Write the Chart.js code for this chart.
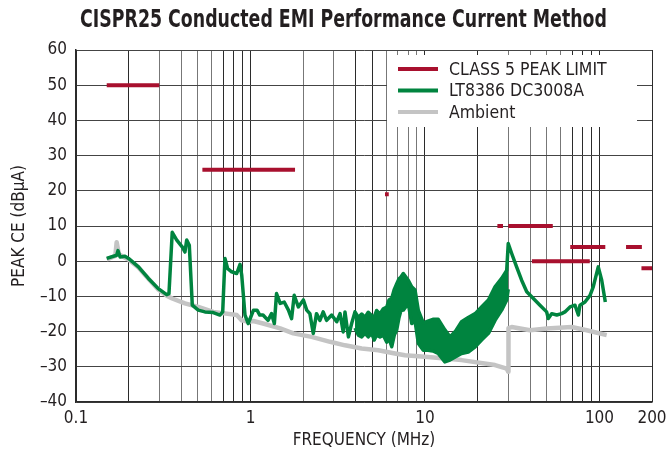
<!DOCTYPE html>
<html>
<head>
<meta charset="utf-8">
<script src="https://cdn.jsdelivr.net/npm/chart.js@4"></script>
<style>
  body { margin: 0; background: #fff; }
  canvas { display: block; }
</style>
</head>
<body>
<canvas id="emiChart" width="667" height="456"></canvas>
<script>
const FONT = "'Liberation Sans Narrow', 'DejaVu Sans Condensed', sans-serif";
const INK = '#231f20';

/* ---------- DATA ---------- */
// x axis grid positions and labelled ticks (MHz)
const xGrid = [0.1, 0.2, 0.3, 0.4, 0.5, 0.6, 0.7, 0.8, 0.9,
  1, 2, 3, 4, 5, 6, 7, 8, 9,
  10, 20, 30, 40, 50, 60, 70, 80, 90, 100, 200];
const xLabels = [0.1, 1, 10, 100, 200];

// CISPR25 class 5 peak limit segments
const limitStart = [0.15, 0.53, 5.9, 26, 30, 41, 68, 142, 174];
const limitStop = [0.3, 1.8, 6.2, 28, 54, 88, 108, 175, 230];
const limitLevel = [50, 26, 19, 10, 10, 0, 4, 4, -2];

// LT8386 DC3008A trace (upper edge where the trace is a dense band)
const greenFreq = [0.150, 0.171, 0.174, 0.179, 0.191, 0.200, 0.228, 0.260, 0.296, 0.331,
  0.341, 0.356, 0.378, 0.407, 0.421, 0.431, 0.446, 0.464, 0.502, 0.548,
  0.612, 0.668, 0.693, 0.714, 0.740, 0.780, 0.834, 0.871, 0.891, 0.930,
  0.971, 1.04, 1.09, 1.13, 1.18, 1.26, 1.32, 1.37, 1.41, 1.48,
  1.56, 1.65, 1.72, 1.78, 1.88, 2.01, 2.10, 2.19, 2.29, 2.39,
  2.50, 2.61, 2.73, 2.92, 3.12, 3.26, 3.40, 3.48, 3.64, 3.80,
  3.97, 4.15, 4.34, 4.53, 4.73, 4.95, 5.12, 5.28, 5.52, 5.77,
  6.04, 6.22, 6.45, 6.67, 6.88, 7.10, 7.28, 7.51, 8.02, 8.39,
  8.77, 9.16, 9.78, 10.4, 11.1, 11.9, 13.0, 13.9, 14.9, 16.2,
  17.7, 19.4, 21.1, 23.1, 25.2, 27.5, 29.4, 30.0, 31.4, 33.5,
  35.8, 38.3, 41.8, 45.6, 49.8, 50.9, 53.2, 56.9, 60.7, 63.4,
  67.8, 72.4, 75.7, 77.3, 82.6, 88.3, 92.1, 98.4, 103, 108];
const greenDb = [0.8, 1.7, 3.0, 1.2, 1.4, 0.8, -1.6, -4.9, -7.8, -9.5,
  -9.2, 8.2, 6.0, 4.0, 2.6, 6.0, 4.5, -12.5, -13.9, -14.4,
  -14.6, -15.3, -14.4, 0.8, -2.1, -3.0, -3.5, -0.9, -4.0, -15.3,
  -17.7, -13.9, -13.9, -15.3, -15.3, -16.8, -14.9, -17.7, -9.2, -12.0,
  -11.6, -13.9, -16.3, -9.7, -13.0, -11.0, -13.9, -14.9, -20.5, -14.9,
  -16.8, -14.4, -16.8, -15.3, -17.2, -14.9, -20.1, -14.4, -21.5, -17.7,
  -14.4, -16.0, -15.0, -16.0, -14.5, -15.5, -15.8, -14.0, -15.0, -13.5,
  -13.0, -11.0, -10.5, -8.0, -6.5, -5.0, -4.5, -3.5, -5.4, -7.3,
  -8.2, -14.0, -17.5, -17.0, -16.5, -16.5, -19.5, -21.5, -20.0, -17.2,
  -16.0, -14.9, -13.0, -11.0, -7.3, -4.9, -2.6, 5.0, 2.2, -1.6,
  -5.4, -8.7, -10.6, -12.5, -14.4, -16.3, -14.9, -15.3, -14.9, -14.4,
  -13.0, -12.5, -15.3, -12.5, -11.6, -9.7, -7.3, -1.6, -5.4, -11.6];

// lower edge of the dense band (3.97 - 30 MHz)
const bandFreq = [3.97, 4.15, 4.34, 4.53, 4.73, 4.95, 5.12, 5.28, 5.52, 5.77,
  6.04, 6.22, 6.45, 6.67, 6.88, 7.10, 7.28, 7.51, 8.02, 8.39,
  8.77, 9.16, 9.78, 10.4, 11.1, 11.9, 13.0, 13.9, 14.9, 16.2,
  17.7, 19.4, 21.1, 23.1, 25.2, 27.5, 29.4, 30.0];
const bandBottom = [-19.0, -21.0, -21.5, -20.5, -21.5, -20.5, -22.4, -21.0, -21.5, -21.0,
  -23.0, -22.0, -24.3, -21.0, -19.6, -16.0, -14.0, -13.9, -12.0, -17.7,
  -17.0, -23.4, -25.3, -25.3, -25.5, -26.2, -28.6, -28.1, -27.2, -26.2,
  -25.8, -24.3, -22.4, -20.5, -16.8, -13.9, -11.0, -8.0];

// Ambient
const ambientFreq = [0.150, 0.168, 0.171, 0.176, 0.191, 0.200, 0.228, 0.260, 0.296, 0.331,
  0.356, 0.421, 0.502, 0.612, 0.834, 0.891, 0.971, 1.04, 1.18, 1.48,
  1.76, 2.24, 2.86, 3.48, 4.34, 5.40, 6.73, 7.68, 10.4, 16.2,
  25.2, 29.4, 30.0, 30.1, 31.4, 40.0, 49.8, 69.3, 84.5, 110];
const ambientDb = [0.5, 1.5, 5.4, 2.0, 1.0, 0.5, -1.8, -5.0, -8.0, -9.8,
  -10.6, -12.0, -13.0, -14.4, -15.3, -16.8, -17.2, -17.0, -17.7, -19.1,
  -20.5, -21.5, -22.9, -23.9, -24.8, -25.3, -26.2, -26.7, -27.2, -28.1,
  -29.5, -30.5, -31.4, -19.0, -18.7, -19.6, -19.1, -18.7, -19.6, -21.0];

/* ---------- BUILD ---------- */
const limitPoints = [];
limitStart.forEach((f, i) => {
  limitPoints.push({ x: f, y: limitLevel[i] });
  limitPoints.push({ x: limitStop[i], y: limitLevel[i] });
  limitPoints.push({ x: limitStop[i], y: null });
});
const pts = (xs, ys) => xs.map((x, i) => ({ x, y: ys[i] }));

const darkX = [0.1, 0.2, 0.7, 0.8, 0.9, 1, 4, 5, 10, 20, 70, 80, 90, 100, 200];

/* ---------- PLUGINS ---------- */
// squeeze the title horizontally (condensed heavy face)
const narrowTitle = {
  id: 'narrowTitle',
  afterInit(chart) {
    const tb = chart.titleBlock;
    const draw = tb.draw.bind(tb);
    tb.draw = function () {
      const ctx = this.ctx;
      const cx = (this.left + this.right) / 2;
      ctx.save();
      ctx.translate(cx + 10, 0);
      ctx.scale(0.79, 1);
      ctx.translate(-cx, 0);
      draw();
      ctx.restore();
    };
  }
};

const legendBox = {
  id: 'legendBox',
  afterDraw(chart) {
    const ctx = chart.ctx;
    const a = chart.chartArea;
    const x0 = a.right - 265;
    const y0 = a.top + 5;
    ctx.save();
    ctx.fillStyle = '#fff';
    ctx.fillRect(x0, y0, 250, 72);
    ctx.font = '17.5px ' + FONT;
    ctx.textBaseline = 'middle';
    ctx.fillStyle = INK;
    let row = 0;
    chart.data.datasets.forEach(ds => {
      if (!ds.label) return;
      const y = y0 + 14 + row * 21.5;
      ctx.strokeStyle = ds.borderColor;
      ctx.lineWidth = 4;
      ctx.beginPath();
      ctx.moveTo(x0 + 11, y);
      ctx.lineTo(x0 + 51, y);
      ctx.stroke();
      ctx.fillText(ds.label, x0 + 62, y + 1);
      row++;
    });
    ctx.restore();
  }
};

new Chart(document.getElementById('emiChart'), {
  type: 'line',
  plugins: [narrowTitle, legendBox],
  data: {
    datasets: [{
      label: 'CLASS 5 PEAK LIMIT',
      data: limitPoints,
      borderColor: '#a8102e',
      borderWidth: 4,
      borderCapStyle: 'butt',
      pointRadius: 0,
      spanGaps: false,
      clip: 0
    }, {
      label: 'LT8386 DC3008A',
      data: pts(greenFreq, greenDb),
      borderColor: '#00843f',
      borderWidth: 3.5,
      borderJoinStyle: 'round',
      pointRadius: 0
    }, {
      label: '',
      data: pts(bandFreq, bandBottom),
      borderColor: '#00843f',
      backgroundColor: '#00843f',
      borderWidth: 3.5,
      borderJoinStyle: 'round',
      pointRadius: 0,
      fill: { target: 1 }
    }, {
      label: 'Ambient',
      data: pts(ambientFreq, ambientDb),
      borderColor: '#c4c4c4',
      borderWidth: 4.5,
      borderJoinStyle: 'round',
      pointRadius: 0
    }]
  },
  options: {
    responsive: false,
    animation: false,
    devicePixelRatio: 1,
    layout: { padding: 0 },
    plugins: {
      legend: { display: false },
      tooltip: { enabled: false },
      title: {
        display: true,
        text: 'CISPR25 Conducted EMI Performance Current Method',
        color: INK,
        font: { family: FONT, size: 25, weight: 'bold' },
        padding: { top: 5, bottom: 15 }
      }
    },
    scales: {
      x: {
        type: 'logarithmic',
        min: 0.1,
        max: 200,
        afterBuildTicks: s => { s.ticks = xGrid.map(v => ({ value: v })); },
        afterFit: s => { s.height = 54; s.paddingLeft = 0; s.paddingRight = 15; },
        ticks: {
          autoSkip: false,
          maxRotation: 0,
          minRotation: 0,
          padding: 6,
          color: INK,
          font: { family: FONT, size: 17 },
          callback: v => xLabels.includes(v) ? String(v) : ''
        },
        grid: {
          drawTicks: false,
          color: c => darkX.includes(c.tick.value) ? '#2b2b2b' : '#777',
          lineWidth: 1
        },
        border: { color: '#2b2b2b', width: 1.5 },
        title: {
          display: true,
          text: 'FREQUENCY (MHz)',
          color: INK,
          font: { family: FONT, size: 17 },
          padding: { top: 0, bottom: 5 }
        }
      },
      y: {
        min: -40,
        max: 60,
        afterFit: s => { s.width = 76; s.paddingTop = 0; s.paddingBottom = 0; },
        ticks: {
          stepSize: 10,
          padding: 9,
          color: INK,
          font: { family: FONT, size: 17 },
          callback: v => String(v).replace('-', '\u2013')
        },
        grid: { drawTicks: false, color: '#444', lineWidth: 1 },
        border: { color: '#2b2b2b', width: 1.5 },
        title: {
          display: true,
          text: 'PEAK CE (dB\u03bcA)',
          color: INK,
          font: { family: FONT, size: 17 },
          padding: { top: 9, bottom: 0 }
        }
      }
    }
  }
});
</script>
</body>
</html>
